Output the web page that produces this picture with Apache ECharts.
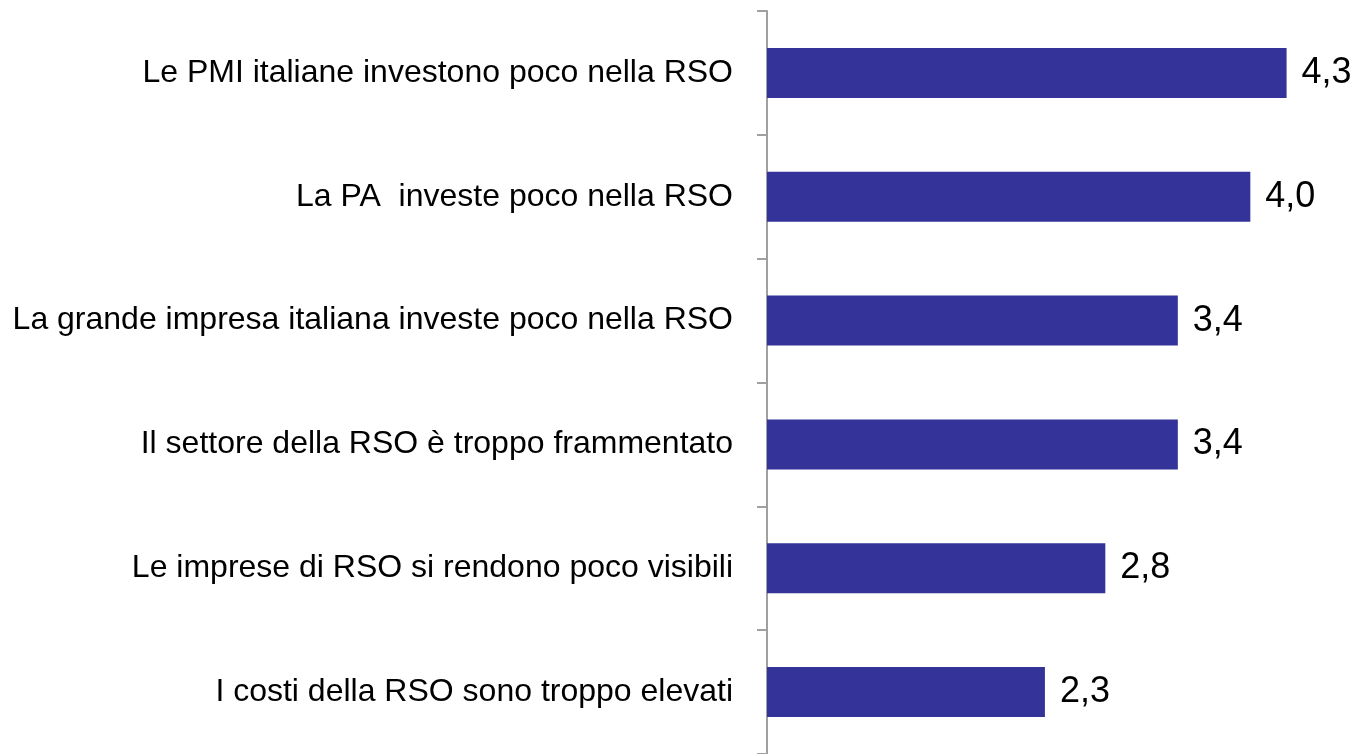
<!DOCTYPE html>
<html>
<head>
<meta charset="utf-8">
<script src="https://cdn.jsdelivr.net/npm/echarts@6/dist/echarts.min.js"></script>
<style>
  html, body { margin: 0; padding: 0; background: #fff; }
  #box { width: 1358px; height: 754px; }
</style>
</head>
<body>
<div id="box"></div>
<script>
const categories = [
  'Le PMI italiane investono poco nella RSO',
  'La PA  investe poco nella RSO',
  'La grande impresa italiana investe poco nella RSO',
  'Il settore della RSO è troppo frammentato',
  'Le imprese di RSO si rendono poco visibili',
  'I costi della RSO sono troppo elevati'
]
const values = [4.3, 4.0, 3.4, 3.4, 2.8, 2.3]

const chart = echarts.init(document.getElementById('box'))
chart.setOption({
  animation: false,
  grid: { left: 767, top: 11, width: 580, height: 746 },
  xAxis: {
    type: 'value',
    min: 0,
    max: 4.8,
    show: false
  },
  yAxis: {
    type: 'category',
    data: categories,
    inverse: true,
    axisLine: { show: true, lineStyle: { color: '#a0a0a0', width: 2 } },
    axisTick: { show: true, length: 10, lineStyle: { color: '#a0a0a0', width: 2 } },
    axisLabel: {
      margin: 34,
      color: '#000',
      fontFamily: 'Liberation Sans, Arial, sans-serif',
      fontSize: 32
    }
  },
  series: [
    {
      type: 'bar',
      data: values,
      barWidth: 50,
      itemStyle: { color: '#343399' },
      label: {
        show: true,
        position: 'right',
        distance: 15,
        color: '#000',
        fontFamily: 'Liberation Sans, Arial, sans-serif',
        fontSize: 36,
        formatter: p => p.value.toFixed(1).replace('.', ',')
      }
    }
  ]
})
</script>
</body>
</html>
